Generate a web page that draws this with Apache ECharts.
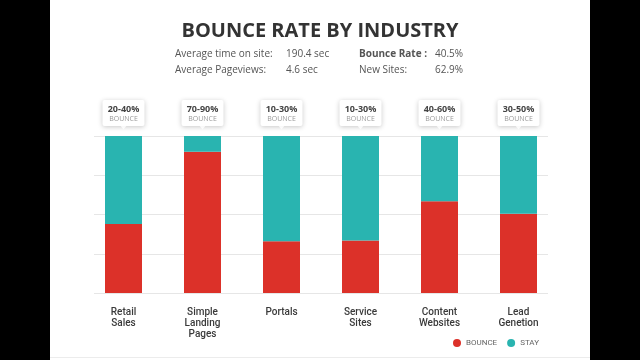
<!DOCTYPE html>
<html>
<head>
<meta charset="utf-8">
<script src="https://cdn.jsdelivr.net/npm/echarts@6/dist/echarts.min.js"></script>
<style>
html,body{margin:0;padding:0;background:#000;}
#chart{width:640px;height:360px;}
</style>
</head>
<body>
<div id="chart"></div>
<script>
var categories = ['Retail\nSales', 'Simple\nLanding\nPages', 'Portals', 'Service\nSites', 'Content\nWebsites', 'Lead\nGenetion'];
var bounceValues = [44, 90, 33, 33.5, 58.5, 50.5];
var stayValues = [56, 10, 67, 66.5, 41.5, 49.5];
var ranges = ['20-40%', '70-90%', '10-30%', '10-30%', '40-60%', '30-50%'];
var yTicks = [0, 25, 50, 75, 100];
var statLabels = ['Average time on site:', 'Average Pageviews:', 'Bounce Rate :', 'New Sites:'];
var statValues = ['190.4 sec', '4.6 sec', '40.5%', '62.9%'];

var RED = '#dc3129';
var TEAL = '#29b4b0';

var chart = echarts.init(document.getElementById('chart'), null, {renderer: 'canvas'});

var statFont = 'Open Sans, Noto Sans, sans-serif';
function statText(x, y, txt, bold) {
  return {
    type: 'text', left: x, top: y, z: 10,
    style: {text: txt, fontSize: 10, fontFamily: statFont, fontWeight: bold ? 'bold' : 'normal', fill: '#555'}
  };
}

var option = {
  backgroundColor: '#000',
  animation: false,
  graphic: [
    {type: 'rect', left: 50, top: 0, z: -10, shape: {width: 540, height: 360}, style: {fill: '#fff'}},
    {type: 'rect', left: 50, top: 357, z: -9, shape: {width: 540, height: 1}, style: {fill: '#ececec'}},
    statText(175, 49, statLabels[0], false),
    statText(175, 65, statLabels[1], false),
    statText(286, 49, statValues[0], false),
    statText(286, 65, statValues[1], false),
    statText(359, 49, statLabels[2], true),
    statText(359, 65, statLabels[3], false),
    statText(435, 49, statValues[2], false),
    statText(435, 65, statValues[3], false)
  ],
  title: {
    text: 'BOUNCE RATE BY INDUSTRY',
    left: 'center',
    top: 16,
    textStyle: {fontSize: 20, fontWeight: 'bold', color: '#333', fontFamily: 'Open Sans, Noto Sans, sans-serif'}
  },
  legend: {
    right: 96,
    bottom: 8,
    icon: 'circle',
    itemWidth: 8,
    itemHeight: 8,
    itemGap: 10,
    data: ['BOUNCE', 'STAY'],
    textStyle: {fontSize: 8, color: '#666', fontFamily: 'Roboto, sans-serif', padding: [0, 0, 0, 0]}
  },
  grid: [
    {left: 94, right: 92, top: 136, bottom: 67},
    {left: 84, right: 82, top: 136, bottom: 67}
  ],
  xAxis: [
    {type: 'category', gridIndex: 0, data: categories, show: false},
    {
      type: 'category', gridIndex: 1, data: categories,
      axisLine: {show: false}, axisTick: {show: false},
      axisLabel: {fontSize: 10, lineHeight: 11, color: '#3a3a3a', fontWeight: 500, margin: 14, fontFamily: 'Roboto, sans-serif', interval: 0}
    }
  ],
  yAxis: [
    {
      type: 'value', gridIndex: 0, min: yTicks[0], max: yTicks[yTicks.length - 1], interval: yTicks[1] - yTicks[0],
      axisLabel: {show: false}, axisLine: {show: false}, axisTick: {show: false},
      splitLine: {lineStyle: {color: '#e6e6e6', width: 1}}
    },
    {
      type: 'value', gridIndex: 1, min: yTicks[0], max: yTicks[yTicks.length - 1],
      show: false, splitLine: {show: false}
    }
  ],
  series: [
    {
      name: 'BOUNCE', type: 'bar', stack: 'total', xAxisIndex: 1, yAxisIndex: 1,
      barWidth: 37, data: bounceValues, itemStyle: {color: RED}
    },
    {
      name: 'STAY', type: 'bar', stack: 'total', xAxisIndex: 1, yAxisIndex: 1,
      barWidth: 37, data: stayValues, itemStyle: {color: TEAL},
      label: {
        show: true, position: 'top', distance: 10,
        formatter: function (p) { return '{a|' + ranges[p.dataIndex] + '}\n{b|BOUNCE}'; },
        backgroundColor: '#fff',
        padding: [4, 6, 3, 6],
        borderRadius: 2,
        shadowBlur: 5,
        shadowColor: 'rgba(0,0,0,0.22)',
        shadowOffsetY: 1,
        rich: {
          a: {fontSize: 9, fontWeight: 'bold', color: '#444', fontFamily: 'Open Sans, sans-serif', lineHeight: 10, width: 30, align: 'center'},
          b: {fontSize: 7, color: '#999', fontFamily: 'Open Sans, sans-serif', lineHeight: 9, width: 30, align: 'center'}
        }
      }
    },
    {
      name: 'pointer', type: 'scatter', xAxisIndex: 1, yAxisIndex: 1,
      symbol: 'triangle', symbolRotate: 180, symbolSize: [8, 5], symbolOffset: [0, -9],
      data: categories.map(function (c, i) { return [i, bounceValues[i] + stayValues[i]]; }),
      itemStyle: {color: '#fff'}, z: 20, silent: true
    }
  ]
};
chart.setOption(option);
</script>
</body>
</html>
